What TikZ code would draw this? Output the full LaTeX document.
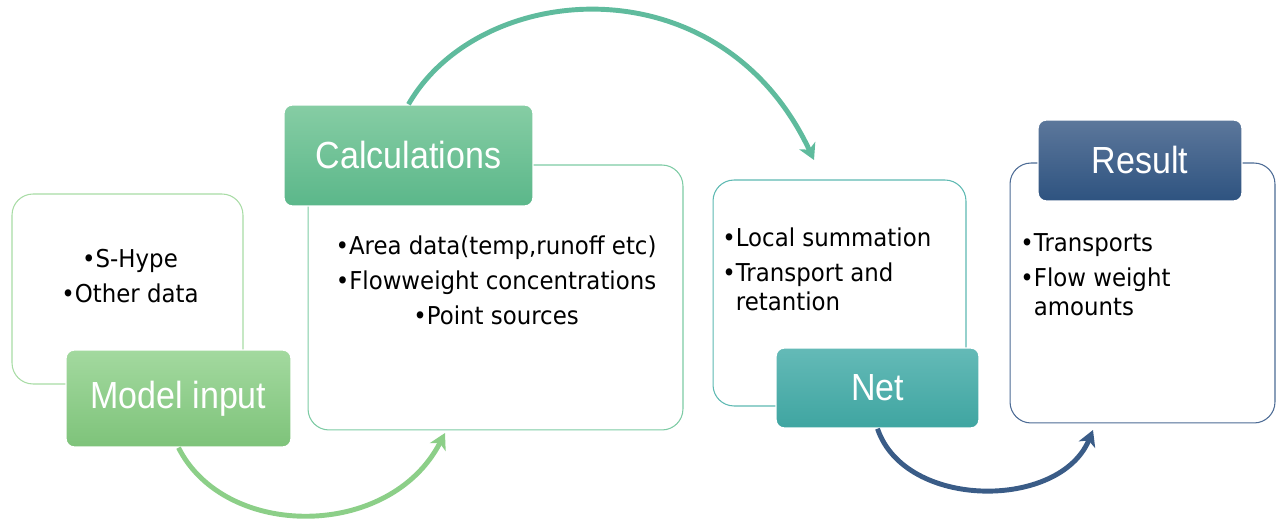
\documentclass[tikz,border=0pt]{standalone}
\usepackage{fontspec}
\setmainfont{DejaVu Sans}[FakeStretch=0.93]
\newfontfamily\labelfont{Liberation Sans}[FakeStretch=0.9]
\usetikzlibrary{calc,arrows.meta,positioning}

\definecolor{inputline}{HTML}{A8DCA5}
\definecolor{inputtop}{HTML}{A3D99F}
\definecolor{inputbot}{HTML}{7EC37A}
\definecolor{calcline}{HTML}{7DCBA4}
\definecolor{calctop}{HTML}{86CDA4}
\definecolor{calcbot}{HTML}{5BB78A}
\definecolor{netline}{HTML}{5DB9B2}
\definecolor{nettop}{HTML}{64BAB7}
\definecolor{netbot}{HTML}{3FA5A1}
\definecolor{resline}{HTML}{4C6B95}
\definecolor{restop}{HTML}{5C779B}
\definecolor{resbot}{HTML}{2E5380}
\definecolor{arrowa}{HTML}{8CCF88}
\definecolor{arrowb}{HTML}{5FBB9D}
\definecolor{arrowc}{HTML}{3A5C87}

\begin{document}
\begin{tikzpicture}[x=0.02cm,y=-0.02cm,
 textbox/.style={draw, line width=0.6pt, rounded corners=0.42cm, fill=white, inner sep=0},
 headbox/.style={rounded corners=0.16cm, draw=white, line width=0.8pt, text=white,
    font=\labelfont\fontsize{21.5}{25}\selectfont, inner sep=0},
 bodytext/.style={inner sep=0, font=\fontsize{14}{16.5}\selectfont},
 flow/.style={line width=2.8pt, -{Stealth[length=9pt,width=10pt,inset=2.5pt]}}]

    %\draw (0,0) grid (1277,519);
    \useasboundingbox (0,0) rectangle (1277,519);

    % text boxes
    \node[textbox, draw=inputline, minimum width=4.62cm, minimum height=3.8cm] (inputbox) at (127.5,289) {};
    \node[textbox, draw=calcline, minimum width=7.5cm, minimum height=5.3cm] (calcbox) at (495.5,297.5) {};
    \node[textbox, draw=netline, minimum width=5.06cm, minimum height=4.52cm] (netbox) at (839.5,293) {};
    \node[textbox, draw=resline, minimum width=5.3cm, minimum height=5.2cm] (resbox) at (1142.5,293) {};

    % headings
    \node[headbox, top color=inputtop, bottom color=inputbot, minimum width=4.5cm, minimum height=1.94cm]
      (input) at (178.5,398.5) {Model input};
    \node[headbox, top color=calctop, bottom color=calcbot, minimum width=4.98cm, minimum height=2.02cm]
      (calc) at (408.5,155.5) {Calculations};
    \node[headbox, top color=nettop, bottom color=netbot, minimum width=4.06cm, minimum height=1.6cm]
      (net) at (877.5,388) {Net};
    \node[headbox, top color=restop, bottom color=resbot, minimum width=4.08cm, minimum height=1.62cm]
      (result) at (1140,160.5) {Result};

    % bullets
    \node[bodytext, align=center] (inputtext) at (130,276) {•S-Hype\\[3.4pt]•Other data};
    \node[bodytext, align=center] (calctext) at (496,280)
      {•Area data(temp,runoff etc)\\[3.4pt]•Flowweight concentrations\\[3.4pt]•Point sources};
    \node[bodytext, align=left, anchor=west] (nettext) at (722,269)
      {•Local summation\\[3.4pt]•Transport and\\\phantom{•}retantion};
    \node[bodytext, align=left, anchor=west] (restext) at (1020,275)
      {•Transports\\[3.4pt]•Flow weight\\\phantom{•}amounts};

    % arrows
    \coordinate (calcin) at (445,433);
    \coordinate (netin) at (814,160);
    \coordinate (resin) at (1093,430);

    \draw[flow, draw=arrowa] (input.south) .. controls (225,540) and (390,540) .. (calcin);
    \draw[flow, draw=arrowb] (calc.north) .. controls (480,-20) and (720,-40) .. (netin);
    \draw[flow, draw=arrowc] (net.south) .. controls (905,510) and (1060,510) .. (resin);

\end{tikzpicture}
\end{document}
